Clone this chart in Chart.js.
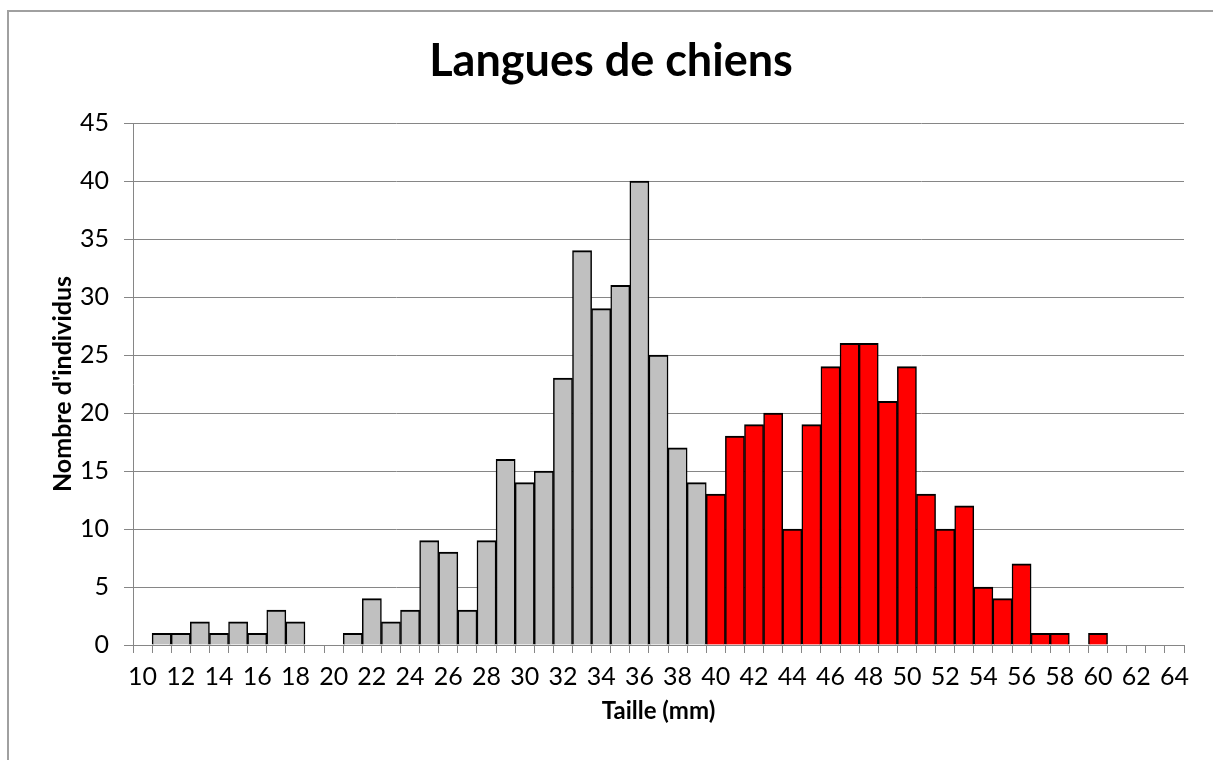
<!DOCTYPE html>
<html>
<head>
<meta charset="utf-8">
<title>Langues de chiens</title>
<script src="https://cdn.jsdelivr.net/npm/chart.js@4.4.0/dist/chart.umd.min.js"></script>
<style>
  html, body { margin: 0; padding: 0; background: #fff; overflow: hidden; }
  #clip { position: absolute; left: 0; top: 0; width: 1213px; height: 760px; overflow: hidden; }
  #frame { position: absolute; left: 7px; top: 10px; width: 1400px; height: 900px; border: 2px solid #a0a0a0; box-sizing: border-box; }
  #wrap { position: absolute; left: 0; top: 0; width: 1213px; height: 760px; }
</style>
</head>
<body>
<div id="clip">
<div id="frame"></div>
<div id="wrap"><canvas id="myChart"></canvas></div>
</div>
<script>
// tailles en mm (une classe par mm)
var tailles = ['10', '11', '12', '13', '14', '15', '16', '17', '18', '19',
  '20', '21', '22', '23', '24', '25', '26', '27', '28', '29',
  '30', '31', '32', '33', '34', '35', '36', '37', '38', '39',
  '40', '41', '42', '43', '44', '45', '46', '47', '48', '49',
  '50', '51', '52', '53', '54', '55', '56', '57', '58', '59',
  '60', '61', '62', '63', '64'];

// nombre d'individus par taille
var effectifs = [0, 1, 1, 2, 1, 2, 1, 3, 2, 0,
  0, 1, 4, 2, 3, 9, 8, 3, 9, 16,
  14, 15, 23, 34, 29, 31, 40, 25, 17, 14,
  13, 18, 19, 20, 10, 19, 24, 26, 26, 21,
  24, 13, 10, 12, 5, 4, 7, 1, 1, 0,
  1, 0, 0, 0, 0];

// a partir de cette taille les barres sont en rouge
var seuil = 40;

var yTicks = [0, 5, 10, 15, 20, 25, 30, 35, 40, 45];

var petits = [];
var grands = [];
for (var i = 0; i < tailles.length; i++) {
  if (Number(tailles[i]) < seuil) {
    petits.push(effectifs[i]);
    grands.push(null);
  } else {
    petits.push(null);
    grands.push(effectifs[i]);
  }
}

var gris = '#868686';
var bordure = {top: 2, left: 1.5, right: 1.5, bottom: 0};

var ctx = document.getElementById('myChart').getContext('2d');
window.myBar = new Chart(ctx, {
  type: 'bar',
  data: {
    labels: tailles,
    datasets: [{
      label: 'petits',
      data: petits,
      backgroundColor: '#c0c0c0',
      borderColor: '#000',
      borderWidth: bordure,
      borderSkipped: false,
      grouped: false,
      barPercentage: 1,
      categoryPercentage: 1
    }, {
      label: 'grands',
      data: grands,
      backgroundColor: '#ff0000',
      borderColor: '#000',
      borderWidth: bordure,
      borderSkipped: false,
      grouped: false,
      barPercentage: 1,
      categoryPercentage: 1
    }]
  },
  options: {
    responsive: true,
    maintainAspectRatio: false,
    animation: false,
    layout: {
      padding: {left: 38, right: 29, top: 0, bottom: 0}
    },
    plugins: {
      legend: {display: false},
      tooltip: {enabled: false},
      title: {
        display: true,
        text: 'Langues de chiens',
        color: '#000',
        font: {family: 'Lato', size: 45, weight: 'bold'},
        padding: {top: 34, bottom: 35}
      }
    },
    scales: {
      x: {
        afterFit: function (scale) { scale.height = 115; },
        grid: {
          display: true,
          offset: true,
          drawOnChartArea: false,
          drawTicks: true,
          tickLength: 8,
          color: gris
        },
        border: {display: true, color: gris, width: 1},
        ticks: {
          autoSkip: false,
          maxRotation: 0,
          padding: 9,
          color: '#000',
          font: {family: 'Lato', size: 25},
          callback: function (val, idx) {
            return Number(tailles[idx]) % 2 === 0 ? tailles[idx] : '';
          }
        },
        title: {
          display: true,
          text: 'Taille (mm)',
          color: '#000',
          font: {family: 'Lato', size: 24, weight: 'bold'},
          padding: {top: 0, bottom: 34}
        }
      },
      y: {
        min: 0,
        max: 45,
        afterFit: function (scale) { scale.width = 95; },
        afterBuildTicks: function (scale) {
          scale.ticks = yTicks.map(function (v) { return {value: v}; });
        },
        grid: {
          color: gris,
          drawTicks: true,
          tickLength: 9
        },
        border: {display: true, color: gris, width: 1},
        ticks: {
          padding: 15,
          color: '#000',
          font: {family: 'Lato', size: 25}
        },
        title: {
          display: true,
          text: "Nombre d'individus",
          color: '#000',
          font: {family: 'Lato', size: 25, weight: 'bold'},
          padding: {top: 10, bottom: 0}
        }
      }
    }
  }
});
</script>
</body>
</html>
